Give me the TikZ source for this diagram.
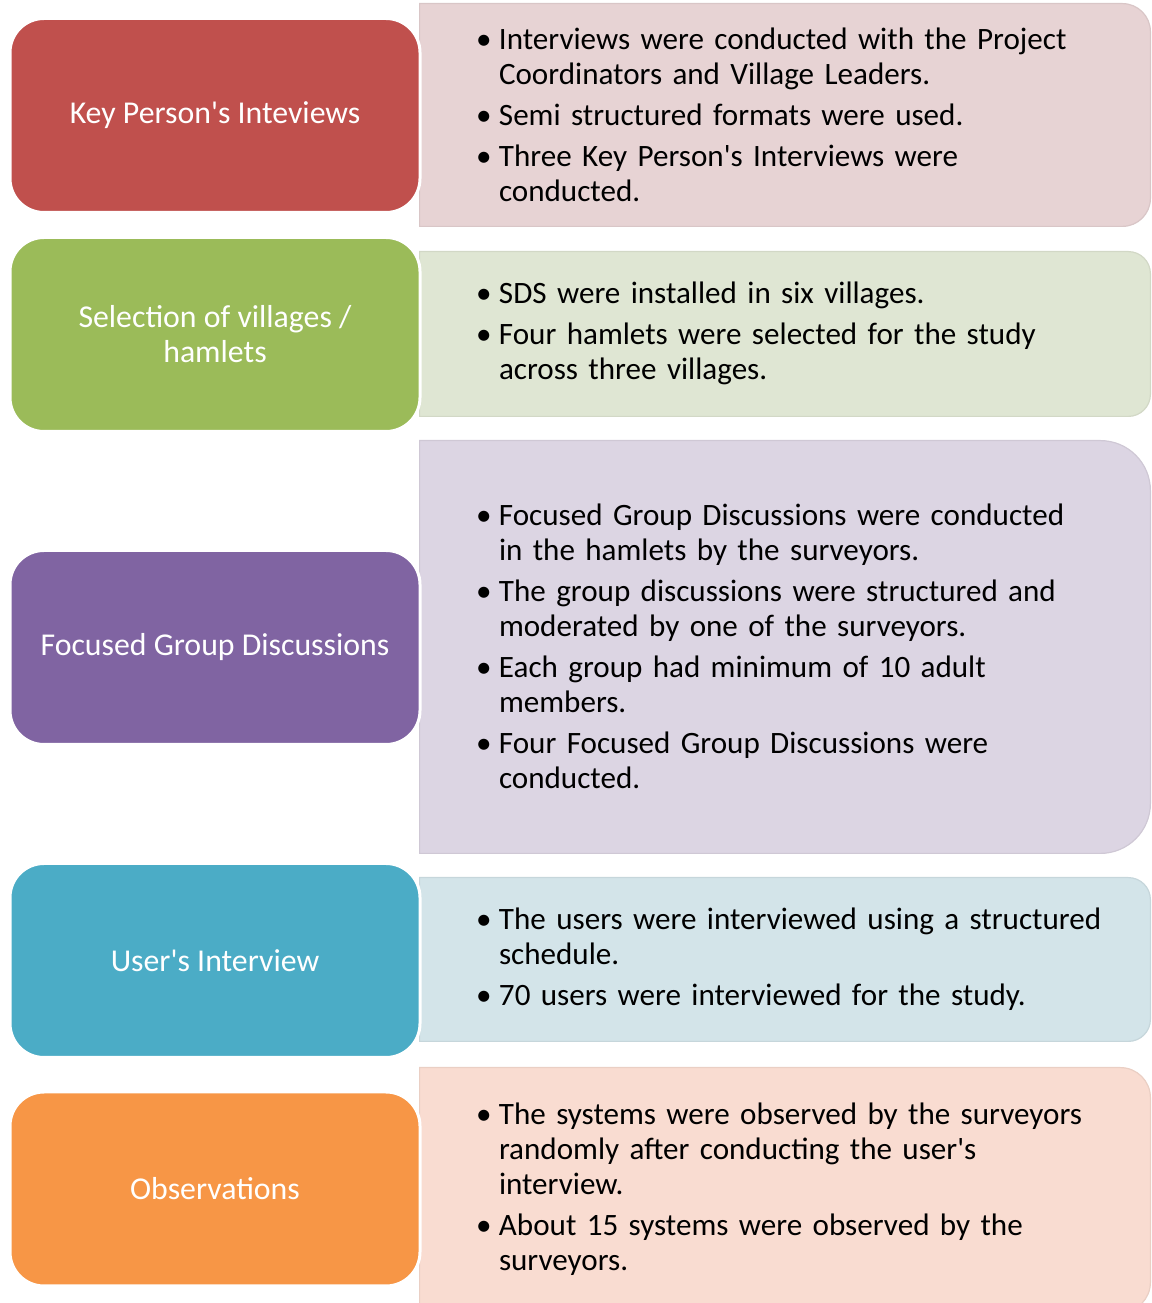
\documentclass[tikz,border=0pt]{standalone}
\usepackage{fontspec}
\setmainfont{Carlito}
\usetikzlibrary{positioning}
\definecolor{keycol}{HTML}{C0504D}
\definecolor{selcol}{HTML}{9BBB59}
\definecolor{foccol}{HTML}{8064A2}
\definecolor{usrcol}{HTML}{4BACC6}
\definecolor{obscol}{HTML}{F79646}
\definecolor{keyfill}{HTML}{E7D3D4}
\definecolor{selfill}{HTML}{DFE6D3}
\definecolor{focfill}{HTML}{DCD5E3}
\definecolor{usrfill}{HTML}{D3E4E9}
\definecolor{obsfill}{HTML}{F9DCD1}
% one bullet point with hanging indent
\newcommand{\bitem}[1]{\par\hangindent=11.5pt\hangafter=1\noindent\makebox[11.5pt][l]{\textbullet}#1\par}
\newcommand{\apo}{\textquotesingle}
% panel with square left and rounded right corners, around a node
\newcommand{\rpanel}[3]{%
  \filldraw[fill=#3, draw=#3!94!black, line width=0.6pt]
    (#1.south west) -- (#1.north west) -- ([xshift=-#2]#1.north east)
    arc[start angle=90, end angle=0, radius=#2] -- ([yshift=#2]#1.south east)
    arc[start angle=0, end angle=-90, radius=#2] -- cycle;}

\begin{document}
\begin{tikzpicture}[x=0.5pt, y=0.5pt,
    lbox/.style={rounded corners=17pt, draw=white, line width=1.5pt, text=white,
      minimum width=205pt, minimum height=97pt, align=center,
      font=\fontsize{15.9}{17.5}\selectfont},
    rbox/.style={minimum width=365pt, inner sep=0pt},
    itemtext/.style={anchor=west, text width=340pt, inner sep=0pt, yshift=5pt,
      font=\fontsize{15.55}{17.5}\selectfont\setlength{\parskip}{3pt}}]
  \clip (0,0) rectangle (1152,1303);

  % right hand panels
  \node[rbox, minimum height=111pt] (kinfo) at (785,1188) {};
  \node[rbox, minimum height=82pt] (sinfo) at (785,969) {};
  \node[rbox, minimum height=206pt] (finfo) at (785,656) {};
  \node[rbox, minimum height=81.5pt] (uinfo) at (785,343.5) {};
  \node[rbox, minimum height=122pt] (oinfo) at (785,113) {};
  \rpanel{kinfo}{14pt}{keyfill}
  \rpanel{sinfo}{11pt}{selfill}
  \rpanel{finfo}{25pt}{focfill}
  \rpanel{uinfo}{11pt}{usrfill}
  \rpanel{oinfo}{15pt}{obsfill}

  \node[itemtext, right=28pt of kinfo.west] (ktext) {%
    \bitem{Interviews were conducted with the Project\newline Coordinators and Village Leaders.}
    \bitem{Semi structured formats were used.}
    \bitem{Three Key Person\apo s Interviews were\newline conducted.}};
  \node[itemtext, right=28pt of sinfo.west] (stext) {%
    \bitem{SDS were installed in six villages.}
    \bitem{Four hamlets were selected for the study\newline across three villages.}};
  \node[itemtext, right=28pt of finfo.west] (ftext) {%
    \bitem{Focused Group Discussions were conducted\newline in the hamlets by the surveyors.}
    \bitem{The group discussions were structured and\newline moderated by one of the surveyors.}
    \bitem{Each group had minimum of 10 adult\newline members.}
    \bitem{Four Focused Group Discussions were\newline conducted.}};
  \node[itemtext, right=28pt of uinfo.west] (utext) {%
    \bitem{The users were interviewed using a structured\newline schedule.}
    \bitem{70 users were interviewed for the study.}};
  \node[itemtext, right=28pt of oinfo.west] (otext) {%
    \bitem{The systems were observed by the surveyors\newline randomly after conducting the user\apo s\newline interview.}
    \bitem{About 15 systems were observed by the\newline surveyors.}};

  % coloured headings on the left
  \node[lbox, fill=keycol] (kper) at (215,1187.5) {Key Person\apo s Inteviews};
  \node[lbox, fill=selcol] (sel) at (215,968.5) {Selection of villages /\\hamlets};
  \node[lbox, fill=foccol] (foc) at (215,655.5) {Focused Group Discussions};
  \node[lbox, fill=usrcol] (usr) at (215,342.5) {User\apo s Interview};
  \node[lbox, fill=obscol] (obs) at (215,114) {Observations};
\end{tikzpicture}
\end{document}
